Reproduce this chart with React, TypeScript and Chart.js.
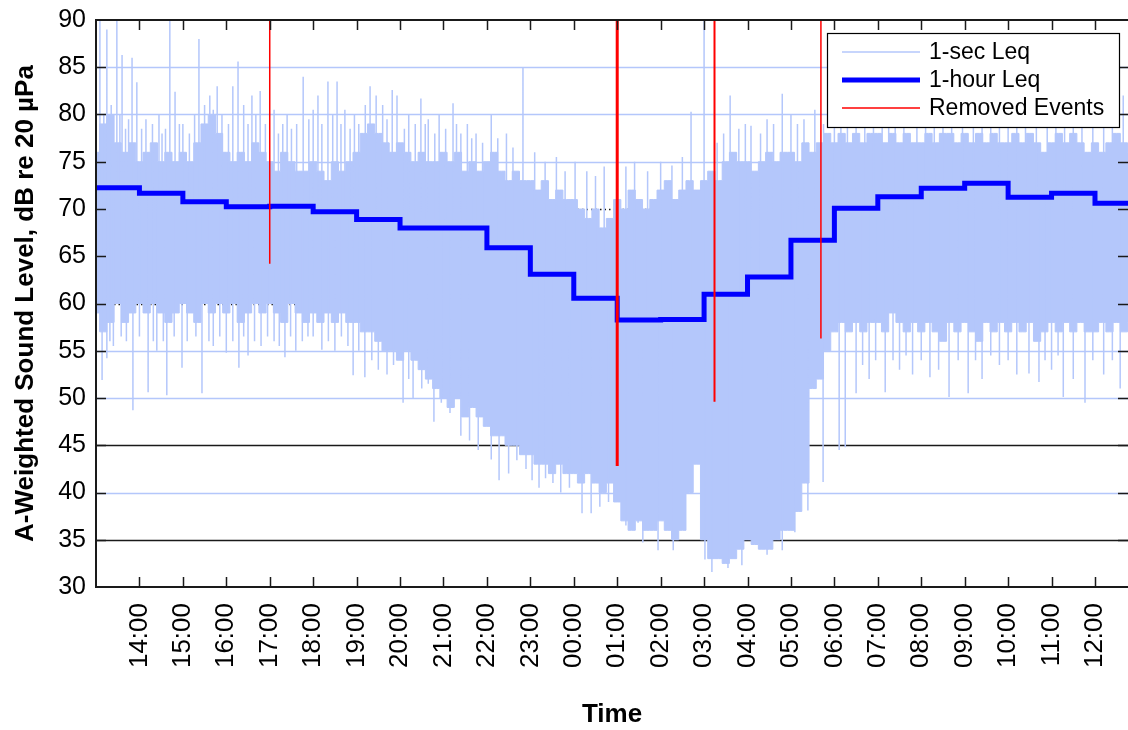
import React, { useEffect, useRef } from 'react';
import { Chart, registerables } from 'chart.js';

Chart.register(...registerables);

const FONT = '"Liberation Sans", Arial, Helvetica, sans-serif';
const LIGHT = '#b4c7fb';
const HOUR_BLUE = '#0000ff';
const EVENT_RED = '#ff0000';
const EVENT_WIDTHS = [1.5, 3, 2, 1.5];

// ---- axis ticks (time in hours from midnight of the first day) ----
const xTickHours = [14, 15, 16, 17, 18, 19, 20, 21, 22, 23, 24, 25, 26, 27, 28, 29, 30, 31, 32, 33, 34, 35, 36];
const xTickLabels = ['14:00', '15:00', '16:00', '17:00', '18:00', '19:00', '20:00', '21:00', '22:00', '23:00',
  '00:00', '01:00', '02:00', '03:00', '04:00', '05:00', '06:00', '07:00', '08:00', '09:00', '10:00', '11:00', '12:00'];
const yTickValues = [30, 35, 40, 45, 50, 55, 60, 65, 70, 75, 80, 85, 90];

// ---- 1-hour Leq (value held for the hour starting at hourStarts[i]) ----
const hourStarts = [13, 14, 15, 16, 17, 18, 19, 20, 21, 22, 23, 24, 25, 26, 27, 28, 29, 30, 31, 32, 33, 34, 35, 36];
const hourlyLeq = [72.25, 71.66, 70.77, 70.24, 70.3, 69.7, 68.9, 68.0, 68.0, 65.9, 63.1, 60.55,
  58.25, 58.3, 60.97, 62.8, 66.7, 70.07, 71.3, 72.19, 72.72, 71.24, 71.66, 70.6];

// ---- 1-sec Leq: dense band, upper and lower edge every 10 minutes from 13:00 ----
const secUpper = [
  76, 79, 80, 77, 76, 77, // 13
  75, 76, 77, 75, 76, 75, // 14
  76, 75, 77, 79, 80, 78, // 15
  76, 75, 76, 75, 77, 76, // 16
  75, 74, 76, 75, 74, 74, // 17
  75, 74, 73, 75, 74, 75, // 18
  76, 78, 79, 78, 77, 76, // 19
  77, 76, 75, 76, 75, 75, // 20
  76, 75, 76, 74, 75, 74, // 21
  75, 76, 74, 73, 74, 73, // 22
  73, 72, 73, 71, 72, 71, // 23
  71, 70, 69, 70, 68, 69, // 00
  71, 70, 72, 71, 70, 71, // 01
  72, 73, 71, 72, 73, 72, // 02
  73, 74, 73, 75, 76, 75, // 03
  75, 74, 75, 76, 75, 76, // 04
  76, 75, 77, 76, 77, 78, // 05
  77, 78, 77, 78, 77, 78, // 06
  78, 77, 78, 77, 78, 77, // 07
  77, 78, 77, 78, 78, 77, // 08
  78, 77, 78, 77, 78, 77, // 09
  77, 78, 77, 78, 77, 76, // 10
  77, 78, 77, 78, 77, 76, // 11
  77, 76, 77, 78, 77, 76, // 12
  77,
];
const secLower = [
  59, 57, 58, 60, 58, 59, // 13
  60, 59, 60, 59, 58, 59, // 14
  60, 59, 58, 60, 59, 60, // 15
  59, 60, 58, 59, 60, 59, // 16
  60, 59, 58, 60, 59, 58, // 17
  59, 58, 59, 58, 59, 58, // 18
  58, 57, 57, 56, 55, 55, // 19
  54, 55, 54, 53, 52, 51, // 20
  50, 49, 50, 48, 49, 48, // 21
  47, 46, 46, 45, 45, 44, // 22
  44, 43, 43, 42, 43, 42, // 23
  42, 41, 42, 41, 40, 41, // 00
  39, 37, 36, 37, 36, 36, // 01
  37, 36, 35, 36, 40, 43, // 02
  35, 33, 33, 32.5, 33, 34, // 03
  35, 34.5, 34, 34, 35, 36, // 04
  36, 38, 41, 51, 52, 55, // 05
  57, 58, 57, 58, 57, 58, // 06
  58, 57, 59, 58, 57, 58, // 07
  57, 58, 57, 56, 58, 57, // 08
  58, 57, 56, 58, 57, 58, // 09
  57, 58, 57, 58, 56, 57, // 10
  58, 57, 58, 57, 58, 57, // 11
  57, 58, 57, 58, 57, 58, // 12
  58,
];

// ---- 1-sec Leq: individual excursions above / below the dense band ----
const spikeUpTimes = [13.09, 13.18, 13.25, 13.35, 13.48, 13.55, 13.6, 13.68, 13.75, 13.83, 13.94, 14.05, 14.15, 14.3, 14.45,
  14.52, 14.6, 14.7, 14.82, 14.92, 15.0, 15.15, 15.27, 15.37, 15.5, 15.62, 15.7, 15.79, 15.9, 16.05, 16.15, 16.27, 16.4,
  16.5, 16.59, 16.68, 16.78, 16.9, 17.1, 17.2, 17.3, 17.4, 17.5, 17.62, 17.77, 17.9, 18.0, 18.11, 18.2, 18.34, 18.45,
  18.55, 18.64, 18.73, 18.85, 18.95, 19.05, 19.2, 19.31, 19.45, 19.6, 19.7, 19.82, 19.93, 20.1, 20.2, 20.35, 20.48,
  20.58, 20.65, 20.8, 20.9, 21.05, 21.22, 21.3, 21.4, 21.55, 21.65, 21.75, 21.9, 22.1, 22.25, 22.45, 22.6, 22.83, 23.1,
  23.34, 23.6, 23.8, 24.03, 24.3, 24.5, 24.7, 25.2, 25.4, 25.7, 26.0, 26.26, 26.5, 26.7, 27.0, 27.3, 27.45, 27.6, 27.8,
  27.95, 28.08, 28.3, 28.45, 28.6, 28.8, 29.0, 29.15, 29.3, 29.55, 29.75, 30.0, 30.15, 30.3, 30.5, 30.7, 30.9, 31.1,
  31.25, 31.4, 31.6, 31.9, 32.1, 32.3, 32.5, 32.7, 32.95, 33.2, 33.4, 33.6, 33.8, 34.0, 34.2, 34.4, 34.65, 34.9, 35.1,
  35.3, 35.5, 35.7, 35.95, 36.2, 36.4, 36.65];
const spikeUpLevels = [90, 80, 89, 81, 90, 80, 86.3, 78.5, 79.5, 86, 83.4, 78.5, 79.5, 79, 80,
  78, 78.5, 90, 82.4, 79, 79, 78, 80, 88, 81, 82, 80.5, 83, 80, 79, 83, 85.6, 81,
  79, 82, 80, 82.5, 79, 80.5, 78, 79, 80, 78.5, 79, 84, 79.5, 80.5, 82, 79, 83.5, 80,
  83.5, 79, 80.5, 78.5, 80, 79, 81, 83, 82, 81, 79.5, 82.6, 82, 78.5, 80, 79, 81.7,
  79, 79.5, 78, 80, 78.5, 81.2, 79, 78, 79, 77.5, 78, 77, 80, 77.5, 78, 76.5, 85, 76,
  75, 75.5, 74, 75, 74, 73.5, 74.5, 74.5, 75, 74, 75, 74.6, 75.5, 80.3, 90, 77, 78, 82, 78.5,
  79, 78.8, 78, 79.5, 79, 82.2, 80, 79, 79.5, 80.5, 79, 80, 79.5, 81, 79.5, 80, 79, 80.5,
  79.5, 79.5, 80, 81, 79.5, 80, 79.5, 80.5, 79.5, 81, 79.5, 80, 79.5, 80.5, 79.5, 79.5, 80, 81, 79.5,
  80, 79.5, 80.5, 79.5, 79.5, 80, 82];
const spikeDownTimes = [13.14, 13.25, 13.32, 13.4, 13.58, 13.7, 13.85, 14.0, 14.2, 14.32, 14.4, 14.55, 14.63, 14.8, 14.98,
  15.1, 15.3, 15.44, 15.6, 15.7, 15.85, 16.0, 16.15, 16.29, 16.4, 16.5, 16.65, 16.8, 16.95, 17.1, 17.22, 17.35, 17.48,
  17.6, 17.75, 17.88, 18.0, 18.2, 18.35, 18.5, 18.65, 18.8, 18.92, 19.05, 19.19, 19.35, 19.5, 19.7, 19.85, 20.07, 20.2,
  20.3, 20.5, 20.65, 20.78, 20.95, 21.15, 21.4, 21.6, 21.8, 22.1, 22.28, 22.5, 22.69, 22.9, 23.04, 23.2, 23.35, 23.52,
  23.7, 23.9, 24.19, 24.4, 24.6, 24.8, 25.2, 25.48, 25.59, 25.94, 26.29, 27.02, 27.18, 27.55, 27.87, 28.45, 28.8, 29.09,
  29.39, 29.74, 30.11, 30.25, 30.5, 30.65, 30.8, 30.95, 31.17, 31.35, 31.5, 31.65, 31.8, 32.0, 32.2, 32.4, 32.64, 32.85,
  33.08, 33.25, 33.4, 33.6, 33.8, 34.0, 34.2, 34.48, 34.71, 34.85, 35.0, 35.15, 35.27, 35.5, 35.77, 35.95, 36.2, 36.4,
  36.58];
const spikeDownLevels = [51.9, 54.2, 56, 55.5, 56.5, 56, 48.7, 56.5, 50.6, 56, 55, 56, 50.3, 56.5, 53.2,
  56, 56.5, 50.5, 56, 55.5, 56.5, 54.8, 56, 53.2, 56.5, 54.5, 56, 55.5, 56.5, 56, 55.5, 54.3, 56.5,
  55, 56, 56.5, 56.5, 55.1, 56, 55, 56.5, 55.5, 52.4, 55, 52.2, 54, 53, 52.5, 53.5, 49.5, 52,
  50, 51, 51.5, 47.5, 49.5, 48.4, 46, 45.5, 44.5, 43.5, 41.3, 42, 43.4, 42.5, 41.3, 40.5, 41.5, 41,
  40, 40.5, 37.8, 37.8, 38.5, 39, 36.5, 36.8, 34.7, 33.9, 33.9, 32.9, 31.6, 32, 32.3, 33.4, 33.9, 35.8,
  38.1, 41.1, 44.5, 44.8, 50.5, 53.5, 52, 54, 50.6, 54, 53, 54.5, 52.5, 54, 52.2, 53, 50.1, 54,
  50.5, 54, 52, 54.5, 53.5, 54, 52.5, 52.6, 51.7, 54, 53, 54.5, 50.1, 52, 49.5, 54, 52.5, 54,
  51];

// ---- Removed events ----
const eventTimes = [17.0, 25.0, 27.24, 29.69];
const eventTop = [90, 90, 90, 90];
const eventBottom = [64.2, 42.8, 49.6, 56.3];

const seriesLabels = ['1-sec Leq', '1-hour Leq', 'Removed Events'];

const X_MIN = 13;
const X_MAX = 36.76;
const Y_MIN = 30;
const Y_MAX = 90;

type Pt = { x: number; y: number | null };

function hourlyAt(t: number): number {
  let idx = 0;
  for (let i = 0; i < hourStarts.length; i++) if (hourStarts[i] <= t) idx = i;
  return hourlyLeq[idx];
}

function buildBand(values: number[]): Pt[] {
  return values.map((v, i) => ({ x: X_MIN + i / 6, y: v }));
}

function buildStrokes(): Pt[] {
  const pts: Pt[] = [];
  spikeUpTimes.forEach((t, i) => {
    pts.push({ x: t, y: hourlyAt(t) }, { x: t, y: spikeUpLevels[i] }, { x: t, y: null });
  });
  spikeDownTimes.forEach((t, i) => {
    pts.push({ x: t, y: hourlyAt(t) }, { x: t, y: spikeDownLevels[i] }, { x: t, y: null });
  });
  return pts;
}

function buildHourly(): Pt[] {
  const pts: Pt[] = hourStarts.map((h, i) => ({ x: h, y: hourlyLeq[i] }));
  pts.push({ x: hourStarts[hourStarts.length - 1] + 1, y: hourlyLeq[hourlyLeq.length - 1] });
  return pts;
}

function buildEvents(): Pt[] {
  const pts: Pt[] = [];
  eventTimes.forEach((t, i) => {
    pts.push({ x: t, y: eventTop[i] }, { x: t, y: eventBottom[i] }, { x: t, y: null });
  });
  return pts;
}

function gridStyle(v: number): { color: string; dash: number[] } {
  if (v === 35 || v === 45) return { color: '#1a1a1a', dash: [] };
  if (v >= 60 && v <= 70) return { color: '#1a1a1a', dash: [1.5, 3] };
  return { color: LIGHT, dash: [] };
}

const decorPlugin = {
  id: 'decor',
  beforeDatasetsDraw(chart: any) {
    const { ctx, chartArea: a, scales } = chart;
    const y = scales.y;
    ctx.save();
    yTickValues.forEach((v) => {
      if (v <= Y_MIN || v >= Y_MAX) return;
      const py = Math.round(y.getPixelForValue(v)) + 0.5;
      const st = gridStyle(v);
      ctx.beginPath();
      ctx.strokeStyle = st.color;
      ctx.setLineDash(st.dash);
      ctx.lineWidth = 1.5;
      ctx.moveTo(a.left, py);
      ctx.lineTo(a.right, py);
      ctx.stroke();
    });
    ctx.restore();
  },
  afterDatasetsDraw(chart: any) {
    const { ctx, chartArea: a, scales } = chart;
    const x = scales.x;
    const y = scales.y;
    ctx.save();
    ctx.strokeStyle = '#1a1a1a';
    ctx.lineWidth = 1.5;
    ctx.beginPath();
    xTickHours.forEach((h) => {
      const px = Math.round(x.getPixelForValue(h)) + 0.5;
      ctx.moveTo(px, a.bottom);
      ctx.lineTo(px, a.bottom - 10);
      ctx.moveTo(px, a.top);
      ctx.lineTo(px, a.top + 10);
    });
    yTickValues.forEach((v) => {
      if (v <= Y_MIN || v >= Y_MAX) return;
      const py = Math.round(y.getPixelForValue(v)) + 0.5;
      ctx.moveTo(a.left, py);
      ctx.lineTo(a.left + 10, py);
      ctx.moveTo(a.right, py);
      ctx.lineTo(a.right - 10, py);
    });
    ctx.stroke();
    ctx.lineWidth = 2;
    ctx.beginPath();
    ctx.moveTo(a.right, a.top);
    ctx.lineTo(a.left, a.top);
    ctx.lineTo(a.left, a.bottom);
    ctx.lineTo(a.right, a.bottom);
    ctx.stroke();
    ctx.restore();
  },
  afterDraw(chart: any) {
    const { ctx, chartArea: a } = chart;
    const bx = a.right - 301;
    const by = a.top + 13;
    const bw = 292;
    const bh = 94;
    ctx.save();
    ctx.fillStyle = '#ffffff';
    ctx.fillRect(bx, by, bw, bh);
    ctx.strokeStyle = '#000000';
    ctx.lineWidth = 1.2;
    ctx.strokeRect(bx + 0.5, by + 0.5, bw, bh);
    const rows = [
      { color: LIGHT, width: 1.5 },
      { color: HOUR_BLUE, width: 5 },
      { color: EVENT_RED, width: 1.5 },
    ];
    ctx.font = `23px ${FONT}`;
    ctx.textBaseline = 'middle';
    ctx.textAlign = 'left';
    rows.forEach((r, i) => {
      const ry = by + 19 + i * 28;
      ctx.beginPath();
      ctx.strokeStyle = r.color;
      ctx.lineWidth = r.width;
      ctx.moveTo(bx + 15, ry);
      ctx.lineTo(bx + 93, ry);
      ctx.stroke();
      ctx.fillStyle = '#000000';
      ctx.fillText(seriesLabels[i], bx + 102, ry + 1);
    });
    ctx.restore();
  },
};

export default function App() {
  const canvasRef = useRef<HTMLCanvasElement | null>(null);

  useEffect(() => {
    if (!canvasRef.current) return;
    Chart.defaults.font.family = FONT;
    Chart.defaults.color = '#000000';

    const chart = new Chart(canvasRef.current, {
      type: 'line',
      data: {
        datasets: [
          {
            label: seriesLabels[2],
            data: buildEvents(),
            borderColor: EVENT_RED,
            borderWidth: 2,
            segment: { borderWidth: (c: any) => EVENT_WIDTHS[Math.floor(c.p0DataIndex / 3)] || 1.5 },
            pointRadius: 0,
            spanGaps: false,
            fill: false,
            order: 0,
          },
          {
            label: seriesLabels[1],
            data: buildHourly(),
            borderColor: HOUR_BLUE,
            borderWidth: 5,
            stepped: true,
            pointRadius: 0,
            fill: false,
            order: 1,
          },
          {
            label: '1-sec Leq excursions',
            data: buildStrokes(),
            borderColor: LIGHT,
            borderWidth: 1.5,
            pointRadius: 0,
            spanGaps: false,
            fill: false,
            order: 2,
          },
          {
            label: seriesLabels[0],
            data: buildBand(secUpper),
            borderColor: LIGHT,
            backgroundColor: LIGHT,
            borderWidth: 1,
            stepped: 'middle',
            pointRadius: 0,
            fill: '+1',
            order: 3,
          },
          {
            label: '1-sec Leq lower',
            data: buildBand(secLower),
            borderColor: LIGHT,
            borderWidth: 1,
            stepped: 'middle',
            pointRadius: 0,
            fill: false,
            order: 4,
          },
        ] as any,
      },
      options: {
        responsive: false,
        animation: false,
        events: [],
        layout: { padding: { top: 20, right: 0, left: 0, bottom: 0 } },
        plugins: {
          legend: { display: false },
          tooltip: { enabled: false },
        },
        scales: {
          x: {
            type: 'linear',
            min: X_MIN,
            max: X_MAX,
            afterBuildTicks: (scale: any) => {
              scale.ticks = xTickHours.map((v) => ({ value: v }));
            },
            afterFit: (scale: any) => {
              scale.height = 143;
              scale.paddingLeft = 0;
              scale.paddingRight = 0;
            },
            ticks: {
              autoSkip: false,
              minRotation: 90,
              maxRotation: 90,
              padding: 16,
              color: '#000000',
              font: { family: FONT, size: 26 },
              callback: (value: any) => {
                const i = xTickHours.indexOf(Number(value));
                return i >= 0 ? xTickLabels[i] : '';
              },
            },
            grid: { display: false, drawTicks: false },
            border: { display: false },
            title: {
              display: true,
              text: 'Time',
              color: '#000000',
              font: { family: FONT, size: 26, weight: 'bold' },
              padding: { top: 0, bottom: 0 },
            },
          },
          y: {
            type: 'linear',
            min: Y_MIN,
            max: Y_MAX,
            afterBuildTicks: (scale: any) => {
              scale.ticks = yTickValues.map((v) => ({ value: v }));
            },
            afterFit: (scale: any) => {
              scale.width = 96;
              scale.paddingTop = 0;
              scale.paddingBottom = 0;
            },
            ticks: {
              padding: 10,
              color: '#000000',
              font: { family: FONT, size: 25 },
              callback: (value: any) => String(value),
            },
            grid: { display: false, drawTicks: false },
            border: { display: false },
            title: {
              display: true,
              text: 'A-Weighted Sound Level, dB re 20 µPa',
              color: '#000000',
              font: { family: FONT, size: 26, weight: 'bold' },
              padding: { top: 10, bottom: 0 },
            },
          },
        },
      } as any,
      plugins: [decorPlugin],
    });

    return () => {
      chart.destroy();
    };
  }, []);

  return (
    <div style={{ position: 'fixed', left: 0, top: 0, width: 1128, height: 730, background: '#ffffff' }}>
      <canvas ref={canvasRef} width={1128} height={730} style={{ display: 'block' }} />
    </div>
  );
}
